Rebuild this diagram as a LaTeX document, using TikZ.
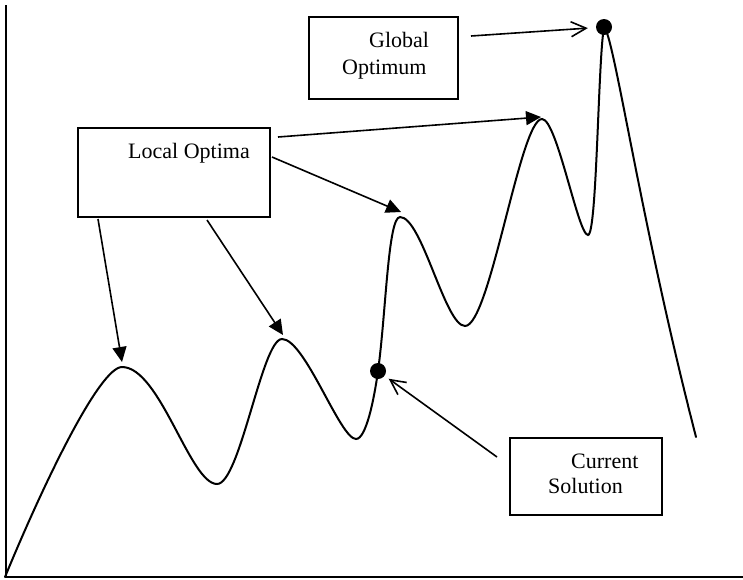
\documentclass[tikz,border=0pt]{standalone}
\usepackage{fontspec}
\setmainfont{Liberation Serif}
\usetikzlibrary{arrows.meta}
\begin{document}
\begin{tikzpicture}[x=1pt,y=-1pt,
  box/.style={draw, line width=1.4pt, inner sep=0pt},
  lbl/.style={inner sep=0pt, anchor=base west, font=\fontsize{22}{26}\selectfont},
  curve/.style={line width=2pt, line cap=round},
  axisline/.style={line width=2.4pt},
  dotmark/.style={circle, fill=black, inner sep=0pt, minimum size=16pt},
  farrow/.style={line width=1.6pt, -{Triangle[length=15pt,width=14pt]}},
  oarrow/.style={line width=1.6pt, -{Straight Barb[length=15pt,width=15pt]}}]
\useasboundingbox (0,0) rectangle (743,579);
% axes
\draw[axisline] (6,5) -- (6,577) -- (743,577);
% landscape curve
\draw[curve] (5,577) .. controls (45,480) and (100,367) .. (122,367)
  .. controls (160,367) and (190,484) .. (217,484)
  .. controls (240,484) and (262,339) .. (282,339)
  .. controls (305,339) and (340,439) .. (356,439)
  .. controls (366,439) and (374,400) .. (378,371)
  .. controls (386,313) and (388,217) .. (400,217)
  .. controls (422,217) and (445,326) .. (465,326)
  .. controls (490,326) and (520,119) .. (542,119)
  .. controls (557,119) and (578,235) .. (588,235)
  .. controls (597,235) and (598,60) .. (604,27)
  .. controls (614,35) and (640,220) .. (696,437);
% dots
\node[dotmark] (gdot) at (604,27) {};
\node[dotmark] (cdot) at (378,371) {};
% boxes
\node[box, minimum width=149pt, minimum height=82pt] (gbox) at (383.5,58) {};
\node[box, minimum width=192pt, minimum height=89pt] (lbox) at (174,172.5) {};
\node[box, minimum width=152pt, minimum height=77pt] (cbox) at (586,476.5) {};
% texts
\node[lbl] (tg1) at (369,47) {Global};
\node[lbl] (tg2) at (342,74) {Optimum};
\node[lbl] (tl) at (128,158) {Local Optima};
\node[lbl] (tc1) at (571,468) {Current};
\node[lbl] (tc2) at (548,493) {Solution};
% arrow anchors
\coordinate (gs) at (471,36);
\coordinate (l4s) at (278,137);
\coordinate (l3s) at (272,157);
\coordinate (l1s) at (98,219);
\coordinate (l2s) at (207,220);
\coordinate (cs) at (497,457);
\coordinate (p1tip) at (122,362);
\coordinate (p2tip) at (283,335);
\coordinate (p3tip) at (401,212);
\coordinate (p4tip) at (541,117);
% arrows
\draw[oarrow, shorten >=8pt] (gs) -- (gdot);
\draw[oarrow, shorten >=5pt] (cs) -- (cdot);
\draw[farrow] (l4s) -- (p4tip);
\draw[farrow] (l3s) -- (p3tip);
\draw[farrow] (l1s) -- (p1tip);
\draw[farrow] (l2s) -- (p2tip);
\end{tikzpicture}
\end{document}
